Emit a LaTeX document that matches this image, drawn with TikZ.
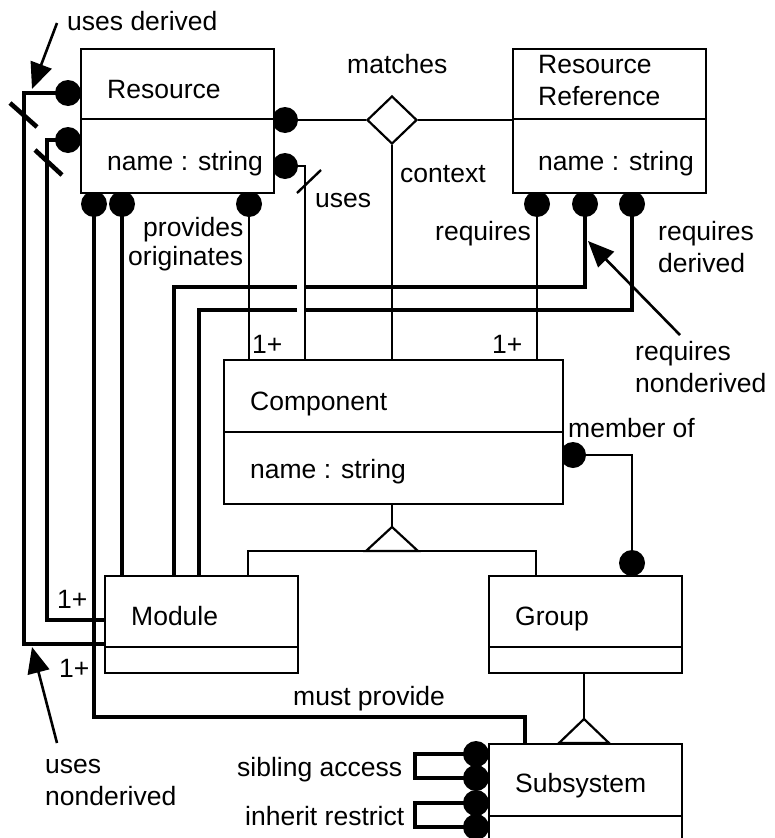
\documentclass[tikz,border=0pt]{standalone}
\usepackage{fontspec}
\setmainfont{Liberation Sans}
\usetikzlibrary{shapes.geometric,arrows.meta,backgrounds}
\begin{document}
\begin{tikzpicture}[x=1pt,y=-1pt,
  every node/.style={font=\fontsize{26.5}{32}\selectfont},
  box/.style={draw, line width=2.2pt, fill=white, rectangle, inner sep=0pt, anchor=north west},
  dot/.style={circle, fill=black, inner sep=0pt, minimum size=26pt},
  thinline/.style={line width=2.4pt},
  thickline/.style={line width=4.6pt},
  divider/.style={line width=2.2pt},
  lbl/.style={anchor=base west, inner sep=0pt},
  note/.style={line width=2.6pt, -{Triangle[length=26pt,width=22pt]}},
  gen/.style={line width=2.2pt, fill=white},
  assoc/.style={diamond, draw, line width=2.2pt, fill=white, inner sep=0pt, minimum width=50pt, minimum height=48pt}
]
\useasboundingbox (0,0) rectangle (774,838);
\clip (0,0) rectangle (774,838);

% ---- classes ----
\node[box, minimum width=193pt, minimum height=144pt] (res)  at (80,48)  {};
\node[box, minimum width=193pt, minimum height=144pt] (rr)   at (512,48) {};
\node[box, minimum width=339pt, minimum height=144pt] (comp) at (223,359) {};
\node[box, minimum width=193pt, minimum height=97pt]  (mod)  at (104,575) {};
\node[box, minimum width=193pt, minimum height=97pt]  (grp)  at (488,575) {};
\node[box, minimum width=193pt, minimum height=140pt] (ss)   at (488,743) {};

\draw[divider] ([yshift=-71pt]res.north west)  -- ([yshift=-71pt]res.north east);
\draw[divider] ([yshift=-71pt]rr.north west)   -- ([yshift=-71pt]rr.north east);
\draw[divider] ([yshift=-73pt]comp.north west) -- ([yshift=-73pt]comp.north east);
\draw[divider] ([yshift=-72pt]mod.north west)  -- ([yshift=-72pt]mod.north east);
\draw[divider] ([yshift=-72pt]grp.north west)  -- ([yshift=-72pt]grp.north east);
\draw[divider] ([yshift=-73pt]ss.north west)   -- ([yshift=-73pt]ss.north east);

% association diamond
\node[assoc] (dia) at (392,120) {};

% bend points
\coordinate (uA) at (305,0);
\coordinate (mp) at (525,717);
\coordinate (ou) at (24,644);
\coordinate (iu) at (47,620);
\coordinate (g1) at (392,527);
\coordinate (g2) at (584,719);
\coordinate (gL) at (248,551);
\coordinate (gR) at (536,551);

\begin{scope}[on background layer]
  % association ends
  \node[dot] (dL1) at (68,93)   {};
  \node[dot] (dL2) at (68,140)  {};
  \node[dot] (dR1) at (285,120) {};
  \node[dot] (dR2) at (285,166) {};
  \node[dot] (dB1) at (94,204)  {};
  \node[dot] (dB2) at (122,204) {};
  \node[dot] (dB3) at (249,204) {};
  \node[dot] (qB1) at (537,204) {};
  \node[dot] (qB2) at (585,204) {};
  \node[dot] (qB3) at (632,204) {};
  \node[dot] (cM)  at (573,455) {};
  \node[dot] (gT)  at (632,563) {};
  \node[dot] (sL1) at (476,754) {};
  \node[dot] (sL2) at (476,778) {};
  \node[dot] (sL3) at (476,803) {};
  \node[dot] (sL4) at (476,827) {};

  % matches / context
  \draw[thinline] (dR1.center) -- (dR1.center -| dia.west);
  \draw[thinline] (dia.center -| dia.east) -- (dia.center -| rr.west);
  \draw[thinline] (dia.south) -- (dia.south |- comp.north);
  % uses
  \draw[thinline] (dR2.center) -| (uA |- comp.north);
  \draw[thinline] (297,193) -- (321,170);
  % provides / requires
  \draw[thinline] (dB3.center) -- (dB3.center |- comp.north);
  \draw[thinline] (qB1.center) -- (qB1.center |- comp.north);
  % requires derived / nonderived (bridged where they cross "uses")
  \draw[thickline] (qB2.center) |- (304,287);
  \draw[thickline] (297,287) -| (174,575);
  \draw[thickline] (qB3.center) |- (304,310);
  \draw[thickline] (297,310) -| (199,575);
  % originates
  \draw[thickline] (dB2.center) -- (dB2.center |- mod.north);
  % must provide
  \draw[thickline] (dB1.center) |- (mp) -- (mp |- ss.north);
  % uses derived / nonderived
  \draw[thickline] (dL1.center) -| (ou) -- (ou -| mod.west);
  \draw[thickline] (dL2.center) -| (iu) -- (iu -| mod.west);
  \draw[thickline] (10,103) -- (37,127);
  \draw[thickline] (35,150) -- (62,175);
  % member of
  \draw[thinline] (cM.center) -| (gT.center);
  % generalisation
  \draw[thinline] (g1 |- comp.south) -- (g1);
  \draw[thinline] (gL |- mod.north) -- (gL) -- (gR) -- (gR |- grp.north);
  \draw[thinline] (g2 |- grp.south) -- (g2);
  % sibling access / inherit restrict
  \draw[thickline] (sL1.center) -- ++(-61,0) |- (sL2.center);
  \draw[thickline] (sL3.center) -- ++(-61,0) |- (sL4.center);
\end{scope}

% inheritance triangles
\draw[gen] (g1) -- ++(-26,24) -- ++(52,0) -- cycle;
\draw[gen] (g2) -- ++(-25,24) -- ++(50,0) -- cycle;

% ---- texts ----
\node[lbl] (tRes)  at (107,98)  {Resource};
\node[lbl] (tResA) at (107,170) {name : string};
\node[lbl] (tRr1)  at (538,73)  {Resource};
\node[lbl] (tRr2)  at (538,105) {Reference};
\node[lbl] (tRrA)  at (538,170) {name : string};
\node[lbl] (tComp) at (250,410) {Component};
\node[lbl] (tCompA) at (250,478) {name : string};
\node[lbl] (tMod)  at (131,625) {Module};
\node[lbl] (tGrp)  at (515,625) {Group};
\node[lbl] (tSs)   at (515,792) {Subsystem};

\node[lbl] (lUD)   at (67,30)   {uses derived};
\node[lbl] (lMat)  at (347,73)  {matches};
\node[lbl] (lCtx)  at (400,182) {context};
\node[lbl] (lUses) at (315,207) {uses};
\node[lbl] (lReq)  at (435,240) {requires};
\node[lbl] (lRd1)  at (658,240) {requires};
\node[lbl] (lRd2)  at (658,272) {derived};
\node[lbl] (lProv) at (143,236) {provides};
\node[lbl] (lOrig) at (128,265) {originates};
\node[lbl] (lM1)   at (252,353) {1+};
\node[lbl] (lM2)   at (492,353) {1+};
\node[lbl] (lRn1)  at (635,360) {requires};
\node[lbl] (lRn2)  at (635,392) {nonderived};
\node[lbl] (lMem)  at (568,437) {member of};
\node[lbl] (lM3)   at (57,608)  {1+};
\node[lbl] (lM4)   at (59,677)  {1+};
\node[lbl] (lMust) at (293,705) {must provide};
\node[lbl] (lUn1)  at (45,773)  {uses};
\node[lbl] (lUn2)  at (45,805)  {nonderived};
\node[lbl] (lSib)  at (237,776) {sibling access};
\node[lbl] (lInh)  at (245,825) {inherit restrict};

% ---- callout arrows ----
\coordinate (aUD0) at (57,23);
\coordinate (aUD1) at (32,89);
\coordinate (aUN0) at (57,743);
\coordinate (aUN1) at (32,647);
\coordinate (aRN0) at (680,335);
\coordinate (aRN1) at (588,241);
\draw[note] (aUD0) -- (aUD1);
\draw[note] (aUN0) -- (aUN1);
\draw[note] (aRN0) -- (aRN1);
\end{tikzpicture}
\end{document}
